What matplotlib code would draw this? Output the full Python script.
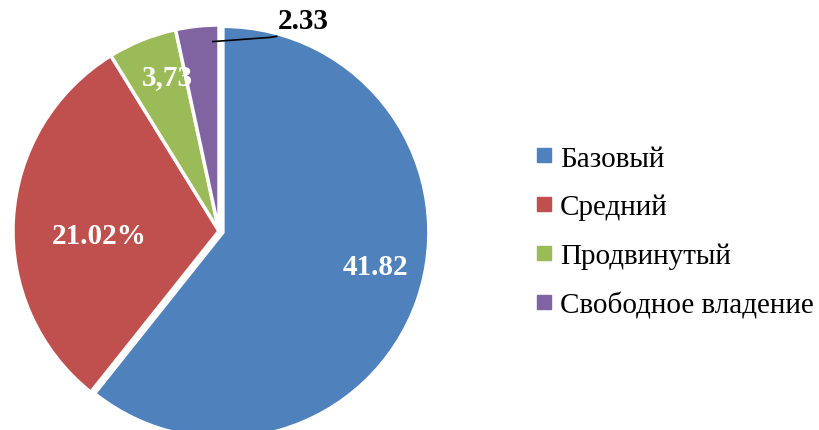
import matplotlib
matplotlib.use("Agg")
import matplotlib.pyplot as plt
from matplotlib.lines import Line2D
import numpy as np

plt.rcParams['font.family'] = ['Liberation Serif', 'DejaVu Serif']

# уровни владения и значения
levels = ['Базовый', 'Средний', 'Продвинутый', 'Свободное владение']
values = [41.82, 21.02, 3.73, 2.33]
value_labels = ['41.82', '21.02%', '3,73', '2.33']
colors = ['#4F81BD', '#C0504D', '#9BBB59', '#8064A2']

fig = plt.figure(figsize=(8.19, 4.31), dpi=100)
# круг: центр ~ (219, 232) px, радиус ~ 206 px
W, H = 819, 431
r_px = 206
cx, cy = 219, 232
ax = fig.add_axes([(cx - r_px) / W, (H - cy - r_px) / H, 2 * r_px / W, 2 * r_px / H])

wedges, _ = ax.pie(values, colors=colors, startangle=90, counterclock=False,
                   explode=[0.02, 0, 0, 0], radius=1.0,
                   wedgeprops=dict(edgecolor='white', linewidth=2.5))
ax.set_xlim(-1, 1)
ax.set_ylim(-1, 1)
ax.set_aspect('equal')
ax.axis('off')

# подписи внутри секторов
txt = dict(fontsize=21, fontweight='bold', ha='center', va='center')
ax.text(0.76, -0.17, value_labels[0], color='white', **txt)
ax.text(-0.58, -0.02, value_labels[1], color='white', **txt)
ax.text(-0.25, 0.75, value_labels[2], color='white', **txt)

# выноска для маленького сектора
w = wedges[3]
ang = np.deg2rad(w.theta1 + 0.15 * (w.theta2 - w.theta1))
x0, y0 = 0.92 * np.cos(ang), 0.92 * np.sin(ang)
ax.plot([x0, 0.25, 0.28], [y0, 0.94, 0.945], color='black', lw=1.2, clip_on=False)
ax.text(0.41, 1.02, value_labels[3], color='black', clip_on=False, **txt)

handles = [Line2D([0], [0], marker='s', linestyle='none', markersize=9.5,
                  markerfacecolor=c, markeredgecolor=c) for c in colors]
fig.legend(handles, levels, loc='center left', bbox_to_anchor=(532 / W, 0.460),
           frameon=False, fontsize=21, labelspacing=0.76, handletextpad=0.15,
           handlelength=0.8, borderaxespad=0, borderpad=0)

fig.savefig('out.png', dpi=100)
